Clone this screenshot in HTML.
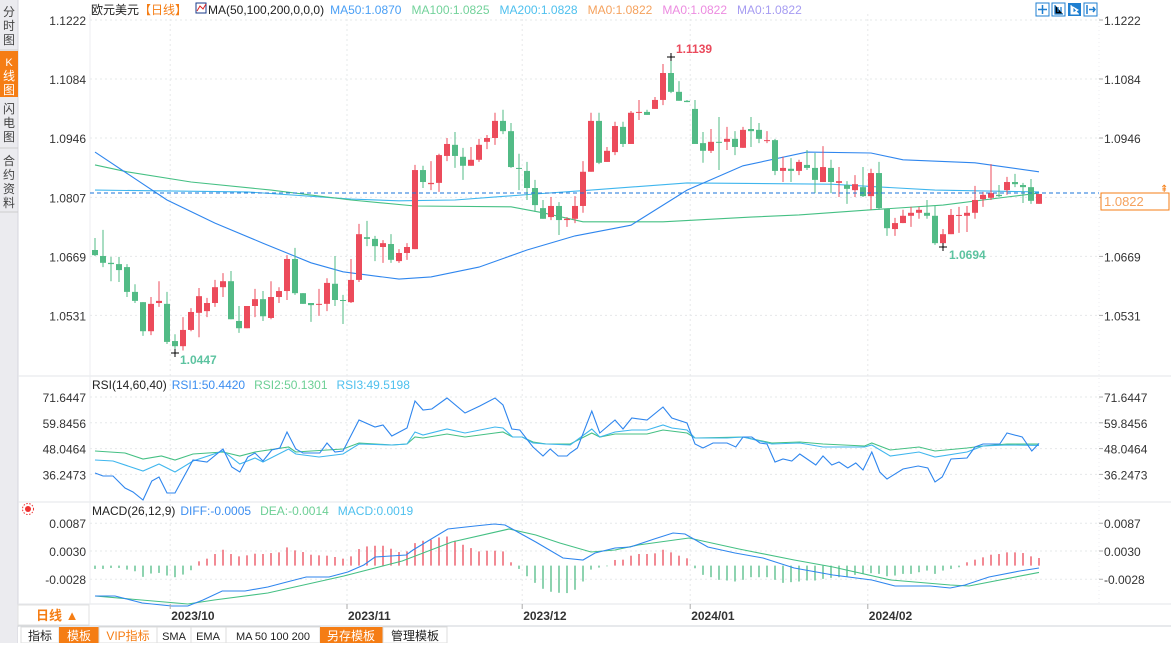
<!DOCTYPE html>
<html><head><meta charset="utf-8">
<style>
html,body{margin:0;padding:0;background:#fff;}
body{width:1171px;height:643px;overflow:hidden;font-family:"Liberation Sans","Noto Sans CJK SC",sans-serif;}
svg text{font-family:"Liberation Sans","Noto Sans CJK SC",sans-serif;}
</style></head>
<body>
<svg id="chart" width="1171" height="643" viewBox="0 0 1171 643" xmlns="http://www.w3.org/2000/svg">
  <!-- sidebar -->
  <g>
    <rect x="0" y="0" width="18" height="643" fill="#ebebef"/>
    <line x1="18" y1="0" x2="18" y2="643" stroke="#d6d6dc"/>
    <g>
      <text x="9" y="16" font-size="12" fill="#444" text-anchor="middle">分</text>
      <text x="9" y="30" font-size="12" fill="#444" text-anchor="middle">时</text>
      <text x="9" y="44" font-size="12" fill="#444" text-anchor="middle">图</text>
    </g>
    <line x1="0" y1="50" x2="18" y2="50" stroke="#ccc"/>
    <g>
      <rect x="0" y="51" width="18" height="46" fill="#f57d14"/>
      <text x="9" y="66" font-size="11" fill="#fff" text-anchor="middle">K</text>
      <text x="9" y="80" font-size="12" fill="#fff" text-anchor="middle">线</text>
      <text x="9" y="94" font-size="12" fill="#fff" text-anchor="middle">图</text>
    </g>
    <g>
      <text x="9" y="113" font-size="12" fill="#444" text-anchor="middle">闪</text>
      <text x="9" y="127" font-size="12" fill="#444" text-anchor="middle">电</text>
      <text x="9" y="141" font-size="12" fill="#444" text-anchor="middle">图</text>
    </g>
    <line x1="0" y1="148" x2="18" y2="148" stroke="#ccc"/>
    <g>
      <text x="9" y="165" font-size="12" fill="#444" text-anchor="middle">合</text>
      <text x="9" y="179" font-size="12" fill="#444" text-anchor="middle">约</text>
      <text x="9" y="193" font-size="12" fill="#444" text-anchor="middle">资</text>
      <text x="9" y="207" font-size="12" fill="#444" text-anchor="middle">料</text>
    </g>
    <line x1="0" y1="212" x2="18" y2="212" stroke="#ccc"/>
  </g>

  <!-- panel frames -->
  <line x1="18" y1="376" x2="1171" y2="376" stroke="#e3e6ea"/>
  <line x1="18" y1="502" x2="1171" y2="502" stroke="#e3e6ea"/>
  <line x1="18" y1="604" x2="1171" y2="604" stroke="#e3e6ea"/>
  <line x1="18" y1="626" x2="1171" y2="626" stroke="#cfd3d8"/>
  <line x1="90" y1="14" x2="90" y2="604" stroke="#eceef0"/>
  <line x1="1099" y1="14" x2="1099" y2="604" stroke="#eceef0" stroke-dasharray="1,3"/>

  <g id="grid"></g>
  <g id="axes"></g>
  <g id="ma"></g>
  <g id="candles"></g>
  <g id="rsi"></g>
  <g id="macd"></g>

  <!-- header -->
  <text x="91" y="14" font-size="12" fill="#222">欧元美元<tspan fill="#f57d14">【日线】</tspan></text>
  <g>
    <rect x="196" y="3" width="10" height="10" fill="#fff" stroke="#1a3a8a"/>
    <polyline points="197,11 200,6 203,9 206,4" fill="none" stroke="#d22" stroke-width="1"/>
  </g>
  <text x="208" y="14" font-size="12" fill="#222">MA(50,100,200,0,0,0)<tspan dx="6" fill="#4a9ff5">MA50:1.0870</tspan><tspan dx="10" fill="#72d29a">MA100:1.0825</tspan><tspan dx="10" fill="#4ec0ee">MA200:1.0828</tspan><tspan dx="10" fill="#f5a25e">MA0:1.0822</tspan><tspan dx="10" fill="#ec8be0">MA0:1.0822</tspan><tspan dx="10" fill="#a69cf2">MA0:1.0822</tspan></text>

  <g>
    <g><rect x="1036" y="3" width="13" height="13" fill="#fff" stroke="#1f7fd0"/><path d="M1042.5 5v9M1038 9.5h9" stroke="#1f7fd0" stroke-width="1.5"/></g>
    <g><rect x="1052" y="3" width="13" height="13" fill="#fff" stroke="#1f7fd0"/><path d="M1055 5v9h8M1058 7v5M1061 7v5" stroke="#1f7fd0" stroke-width="1.3"/></g>
    <g><rect x="1068" y="3" width="13" height="13" fill="#1f7fd0"/><path d="M1071 5v9h8M1073 7l5 3-5 3z" stroke="#fff" fill="#fff" stroke-width="1"/></g>
    <g><rect x="1084" y="3" width="13" height="13" fill="#fff" stroke="#1f7fd0"/><path d="M1087 5v9M1089 9.5h6M1093 7l2 2.5-2 2.5" stroke="#1f7fd0" stroke-width="1.5" fill="none"/></g>
  </g>

  <!-- current price -->
  <line x1="90" y1="193" x2="1099" y2="193" stroke="#1a73d8" stroke-dasharray="4,3"/>
  <rect x="1101" y="193" width="68" height="17" fill="#fff" stroke="#f57d14"/>
  <text x="1104" y="206" font-size="13" fill="#f5a25e">1.0822</text>
  <text x="1160" y="192" font-size="10" fill="#f57d14">⇞</text>

  <!-- extremes -->
  <g><path d="M667 57h8M671 53v8" stroke="#000"/><text x="676" y="53" font-size="12" font-weight="bold" fill="#ea4a5c">1.1139</text></g>
  <g><path d="M171 353h8M175 349v8" stroke="#000"/><text x="180" y="364" font-size="12" font-weight="bold" fill="#5cc3a0">1.0447</text></g>
  <g><path d="M939 247h8M943 243v8" stroke="#000"/><text x="949" y="259" font-size="12" font-weight="bold" fill="#5cc3a0">1.0694</text></g>

  <!-- RSI header -->
  <text x="92" y="389" font-size="12" fill="#222">RSI(14,60,40)<tspan dx="5" fill="#3c8ef0">RSI1:50.4420</tspan><tspan dx="9" fill="#6ccf95">RSI2:50.1301</tspan><tspan dx="9" fill="#4ec0ee">RSI3:49.5198</tspan></text>
  <!-- MACD header -->
  <g><circle cx="28" cy="509" r="3" fill="#e33"/><circle cx="28" cy="509" r="5.5" fill="none" stroke="#e33" stroke-dasharray="1.5,1.5"/></g>
  <text x="92" y="515" font-size="12" fill="#222">MACD(26,12,9)<tspan dx="5" fill="#3c8ef0">DIFF:-0.0005</tspan><tspan dx="9" fill="#6ccf95">DEA:-0.0014</tspan><tspan dx="9" fill="#4ec0ee">MACD:0.0019</tspan></text>

  <!-- date axis -->
  <g>
    <rect x="18" y="605" width="71" height="20" fill="#fff" stroke="#e0e0e0"/>
    <text x="36" y="620" font-size="13" font-weight="bold" fill="#f57d14">日线 ▲</text>
  </g>
  <g id="dates"></g>

  <!-- bottom tabs -->
  <g>
    <rect x="18" y="627" width="1153" height="16" fill="#fff"/>
    <g><rect x="21" y="627" width="38" height="16" fill="#fff" stroke="#ddd"/><text x="40" y="640" font-size="12" fill="#222" text-anchor="middle">指标</text></g>
    <g><rect x="59" y="627" width="40" height="16" fill="#f57d14"/><text x="79" y="640" font-size="12" fill="#fff" text-anchor="middle">模板</text></g>
    <g><rect x="99" y="627" width="58" height="16" fill="#fff" stroke="#ddd"/><text x="128" y="640" font-size="12" fill="#f57d14" text-anchor="middle">VIP指标</text></g>
    <g><rect x="157" y="627" width="34" height="16" fill="#fff" stroke="#ddd"/><text x="174" y="640" font-size="11" fill="#222" text-anchor="middle" font-family="Liberation Mono">SMA</text></g>
    <g><rect x="191" y="627" width="35" height="16" fill="#fff" stroke="#ddd"/><text x="208" y="640" font-size="11" fill="#222" text-anchor="middle" font-family="Liberation Mono">EMA</text></g>
    <g><rect x="226" y="627" width="94" height="16" fill="#fff" stroke="#ddd"/><text x="273" y="640" font-size="11" fill="#222" text-anchor="middle" font-family="Liberation Mono">MA 50 100 200</text></g>
    <g><rect x="320" y="627" width="63" height="16" fill="#f57d14"/><text x="351" y="640" font-size="12" fill="#fff" text-anchor="middle">另存模板</text></g>
    <g><rect x="383" y="627" width="64" height="16" fill="#fff" stroke="#ddd"/><text x="415" y="640" font-size="12" fill="#222" text-anchor="middle">管理模板</text></g>
  </g>
</svg>
<script>
const opens=[1.0684,1.0670,1.0654,1.0651,1.0644,1.0586,1.0562,1.0494,1.0560,1.0558,
1.0471,1.0459,1.0497,1.0537,1.0541,1.0560,1.0597,1.0611,1.0518,1.0501,
1.0553,1.0569,1.0525,1.0574,1.0588,1.0663,1.0583,1.0560,1.0558,1.0558,
1.0605,1.0567,1.0562,1.0614,1.0714,1.0710,1.0691,1.0698,1.0658,1.0677,
1.0686,1.0871,1.0838,1.0841,1.0904,1.0930,1.0902,1.0881,1.0895,1.0937,
1.0946,1.0986,1.0962,1.0876,1.0869,1.0829,1.0782,1.0761,1.0787,1.0754,
1.0757,1.0787,1.0867,1.0986,1.0890,1.0913,1.0972,1.0932,1.1006,1.1007,
1.1014,1.1035,1.1098,1.1054,1.1033,1.1014,1.0934,1.0916,1.0937,1.0937,
1.0944,1.0923,1.0967,1.0965,1.0941,1.0941,1.0869,1.0874,1.0869,1.0883,
1.0876,1.0843,1.0876,1.0841,1.0836,1.0824,1.0831,1.0810,1.0864,1.0780,
1.0733,1.0747,1.0764,1.0771,1.0771,1.0764,1.0700,1.0721,1.0766,1.0764,
1.0771,1.0803,1.0806,1.0813,1.0824,1.0843,1.0836,1.0831,1.0792];
const highs=[1.0712,1.0731,1.0668,1.0668,1.0651,1.0604,1.0562,1.0574,1.0611,1.0586,
1.0487,1.0527,1.0548,1.0595,1.0572,1.0614,1.0630,1.0635,1.0553,1.0553,
1.0593,1.0588,1.0611,1.0597,1.0672,1.0689,1.0583,1.0560,1.0593,1.0618,
1.0670,1.0579,1.0663,1.0745,1.0752,1.0717,1.0707,1.0721,1.0686,1.0700,
1.0883,1.0881,1.0892,1.0909,1.0946,1.0960,1.0923,1.0925,1.0944,1.0953,
1.1005,1.1012,1.0981,1.0909,1.0890,1.0848,1.0801,1.0808,1.0796,1.0761,
1.0810,1.0892,1.1005,1.1005,1.0925,1.0984,1.0984,1.1009,1.1035,1.1012,
1.1042,1.1119,1.1139,1.1079,1.1035,1.1035,1.0960,1.0967,1.0995,1.0972,
1.0962,1.0972,1.0995,1.0981,1.0962,1.0944,1.0902,1.0899,1.0895,1.0918,
1.0911,1.0927,1.0895,1.0878,1.0845,1.0859,1.0878,1.0874,1.0890,1.0780,
1.0759,1.0778,1.0785,1.0785,1.0801,1.0787,1.0733,1.0780,1.0785,1.0787,
1.0834,1.0820,1.0885,1.0836,1.0855,1.0862,1.0841,1.0850,1.0815];
const lows=[1.0670,1.0644,1.0611,1.0609,1.0574,1.0560,1.0483,1.0485,1.0551,1.0464,
1.0447,1.0449,1.0494,1.0480,1.0527,1.0551,1.0574,1.0522,1.0490,1.0501,
1.0527,1.0518,1.0522,1.0560,1.0567,1.0579,1.0558,1.0516,1.0530,1.0541,
1.0553,1.0511,1.0560,1.0609,1.0693,1.0658,1.0654,1.0654,1.0654,1.0661,
1.0686,1.0829,1.0824,1.0820,1.0892,1.0876,1.0848,1.0881,1.0890,1.0920,
1.0930,1.0955,1.0876,1.0824,1.0801,1.0773,1.0757,1.0754,1.0719,1.0738,
1.0747,1.0771,1.0867,1.0885,1.0890,1.0906,1.0925,1.0932,1.0988,1.1000,
1.1014,1.1023,1.1051,1.1033,1.1030,1.0932,1.0888,1.0911,1.0871,1.0918,
1.0906,1.0923,1.0925,1.0934,1.0934,1.0859,1.0843,1.0843,1.0859,1.0871,
1.0817,1.0843,1.0817,1.0808,1.0792,1.0808,1.0808,1.0778,1.0778,1.0717,
1.0717,1.0747,1.0738,1.0757,1.0757,1.0696,1.0694,1.0721,1.0724,1.0726,
1.0757,1.0785,1.0801,1.0808,1.0813,1.0831,1.0794,1.0792,1.0792];
const closes=[1.0672,1.0654,1.0651,1.0637,1.0586,1.0565,1.0494,1.0558,1.0565,1.0469,
1.0459,1.0497,1.0539,1.0576,1.0560,1.0597,1.0611,1.0522,1.0501,1.0553,
1.0569,1.0529,1.0574,1.0588,1.0663,1.0583,1.0558,1.0555,1.0558,1.0607,
1.0567,1.0565,1.0614,1.0721,1.0710,1.0693,1.0700,1.0661,1.0677,1.0691,
1.0871,1.0843,1.0841,1.0906,1.0932,1.0904,1.0881,1.0895,1.0930,1.0946,
1.0986,1.0962,1.0878,1.0875,1.0829,1.0789,1.0757,1.0787,1.0754,1.0757,
1.0787,1.0867,1.0986,1.0888,1.0916,1.0974,1.0932,1.1005,1.1007,1.1000,
1.1035,1.1098,1.1054,1.1033,1.1030,1.0932,1.0916,1.0937,1.0936,1.0944,
1.0925,1.0965,1.0962,1.0944,1.0941,1.0869,1.0876,1.0869,1.0890,1.0876,
1.0848,1.0878,1.0843,1.0845,1.0827,1.0838,1.0810,1.0864,1.0782,1.0735,
1.0747,1.0764,1.0771,1.0778,1.0764,1.0700,1.0721,1.0766,1.0766,1.0771,
1.0801,1.0813,1.0817,1.0810,1.0843,1.0838,1.0831,1.0799,1.0815];

const ma50Idx=[0,9,15,21,27,31,38,42,48,54,60,67,74,81,89,97,101,110,118];
const ma50Val=[1.0913,1.0801,1.0747,1.0700,1.0654,1.0633,1.0616,1.0621,1.0644,1.0684,1.0717,1.0742,1.0824,1.0881,1.0913,1.0911,1.0895,1.0888,1.0867];
const ma100Idx=[0,4,12,22,32,40,52,56,61,71,82,88,97,106,114,118];
const ma100Val=[1.0883,1.0867,1.0843,1.0824,1.0801,1.0787,1.0785,1.0771,1.0750,1.0750,1.0761,1.0766,1.0778,1.0789,1.0808,1.0817];
const ma200Idx=[0,19,32,38,45,55,62,74,92,105,118];
const ma200Val=[1.0824,1.0820,1.0803,1.0799,1.0801,1.0815,1.0824,1.0841,1.0838,1.0824,1.0820];

const priceTicks=[1.1222,1.1084,1.0946,1.0807,1.0669,1.0531];
const rsiTicks=[71.6447,59.8456,48.0464,36.2473];
const macdTicks=[0.0087,0.0030,-0.0028];
const monthLabels=["2023/10","2023/11","2023/12","2024/01","2024/02"];
const monthIdx=[9.4,31.5,53.4,74.4,96.6];

const rsi1Idx=[0,1,2.25,3.75,4.75,6,7.1,8,9,10,12.25,14,16,17.1,18.1,19.1,20,21,22.1,23.1,24,25.1,26,28.1,29,30,31,33,35,36,37.1,39,40,41,42.1,44,46.25,48.1,50,51,52.1,53.1,54.75,56,56.9,57.9,59,59.4,60.3,62.1,63.1,65,66,67.1,69,71,72.1,74,75,76,77.25,79,80.1,81,82.1,83.1,84,85,86,87.1,88.1,90.1,91,92.1,93,94.1,95.1,96,97.1,98.1,99,101,102.9,104.1,105,105.9,107,109,110,111,113.1,114,115.9,117.1,118];
const rsi1Val=[36.89,35.51,35.51,30.03,28.20,24.54,33.23,35.06,27.74,27.74,42.83,41.92,47.86,39.63,37.34,44.20,46.03,42.37,47.40,48.32,55.63,47.86,46.03,46.03,50.60,46.49,46.95,61.12,57.92,58.84,53.81,57.46,69.81,65.70,66.15,71.18,64.32,67.52,71.18,67.98,57.01,56.55,48.77,44.66,47.86,44.66,44.66,46.03,48.32,65.24,55.18,61.12,57.01,62.04,61.12,67.07,62.04,59.75,50.15,48.32,50.60,50.60,48.77,53.35,53.35,50.60,50.15,41.92,43.29,42.37,45.57,40.54,44.66,40.54,41.92,39.17,41.46,38.26,46.49,37.34,34.14,38.71,40.09,39.17,32.77,35.06,43.29,43.74,48.77,50.15,50.15,55.18,53.35,46.95,50.44];
const rsi2Idx=[0,3.75,6,8.3,10,12.25,16,18.1,20,24.2,25.1,31,33,37.1,39,40,41,44,46.25,50,51,52.2,53.4,54.75,56.4,59.4,62.1,63.1,65,69,71,74,75,81,84.6,88.1,91,96.2,97.1,99.4,103,105,109,111,114,118];
const rsi2Val=[46.95,46.03,43.29,44.66,42.83,45.57,46.49,44.66,46.49,48.77,46.49,47.86,50.60,49.69,50.15,53.35,52.89,54.72,53.35,55.18,55.63,53.35,53.35,51.06,50.15,50.15,55.18,53.35,54.72,54.72,56.55,55.18,52.89,53.35,50.60,51.06,50.15,49.23,50.60,47.40,48.77,46.95,48.32,49.23,50.15,50.13];
const rsi3Idx=[0,2.25,6,8,10,12.25,16,18.1,20,21,24.2,25.1,28,31,33,37.1,39,40,41,44,46.25,50,51,52.2,53.4,54.75,56.4,59.4,62.1,63.1,65,67.1,69,71,72.1,74,75,79,81,84.6,88.1,91,96.2,97.1,99.4,103,105,109,111,114,118];
const rsi3Val=[42.83,42.37,37.80,41.00,37.34,42.37,46.95,41.00,43.74,41.92,47.86,45.57,44.20,45.57,50.15,49.69,50.15,55.63,54.26,57.01,55.18,57.92,57.46,53.35,53.35,50.60,50.15,49.69,57.01,53.35,55.63,56.55,56.55,58.84,57.46,56.55,52.89,52.89,53.35,50.15,50.60,48.77,48.77,49.69,44.66,46.49,44.20,46.49,49.23,49.69,49.52];

const diffIdx=[0,2.5,5.9,9.6,11.6,13.5,15.9,18.75,21.6,23.5,26.4,29.25,31.6,33.6,35,38.9,39.75,44.1,47.5,49.9,51.25,55.1,58.5,61,62.5,65,66.9,69.9,72.25,73.75,76.6,80,83.5,87.4,92.25,97.1,100,104.4,106.9,108.75,111.75,115.6,118];
const diffVal=[-62.4,-62.4,-76.8,-82.9,-82.9,-70.6,-52.1,-52.1,-43.9,-35.7,-23.4,-23.4,-13.1,1.3,17.7,21.8,32.1,75.2,81.3,85.4,83.4,48.5,15.6,11.5,25.9,36.2,38.2,54.6,67.0,64.9,38.2,25.9,15.6,-4.9,-19.3,-29.5,-41.9,-41.9,-46.0,-39.8,-23.4,-11.1,-5.0];
const deaIdx=[0,11.6,14.9,21.6,31.1,38.4,44.6,51.75,55.1,58.1,62,65,67.9,74.25,80.5,87.4,92.25,99.5,106.9,109.25,118];
const deaVal=[-62.4,-78.8,-70.6,-56.2,-21.3,9.5,48.5,75.2,62.8,46.4,27.9,32.1,42.3,56.7,34.1,11.5,-2.8,-29.5,-39.8,-41.9,-14.0];
const histVal=[-6.8,-6.8,-4.8,-4.8,-8.2,-11.6,-23.1,-16.3,-15.0,-20.4,-23.8,-18.4,-9.5,8.8,14.3,23.8,32.6,23.8,19.0,21.1,
24.5,23.8,25.8,27.2,37.4,31.3,27.9,22.4,21.1,20.4,17.7,14.3,19.0,34.0,39.4,40.8,40.8,34.7,27.9,29.2,
46.2,51.0,53.0,57.8,59.8,51.0,42.8,36.0,29.2,30.6,30.6,29.2,6.8,-6.8,-21.8,-35.4,-47.6,-53.7,-55.8,-56.4,
-49.6,-32.6,-8.2,-4.1,-1.4,11.6,12.2,20.4,23.8,23.8,25.2,32.6,27.2,20.4,15.0,-5.4,-19.0,-23.8,-29.2,-30.6,
-32.6,-29.2,-23.8,-23.8,-23.8,-29.2,-35.4,-34.0,-32.6,-30.6,-30.6,-27.2,-25.2,-23.8,-22.4,-19.0,-17.0,-15.6,-17.0,-21.8,
-20.4,-17.0,-17.0,-13.6,-10.2,-17.0,-10.2,-6.8,-3.4,6.8,12.2,17.0,22.4,23.8,27.2,27.2,25.8,19.0,15.6];

const NS="http://www.w3.org/2000/svg";
const RED="#ec4b5b",GREEN="#52bb86";
function xOf(i){return 95+8*i;}
function yPrice(p){return 20+(1.1222-p)*4275;}
function yRsi(v){return 397+(71.6447-v)*2.187;}
function yMacd(v){return 551+(0.0030-v)*4870;}
function mk(tag,attrs,parent){const e=document.createElementNS(NS,tag);for(const k in attrs)e.setAttribute(k,attrs[k]);parent.appendChild(e);return e;}

const grid=document.getElementById('grid'),axes=document.getElementById('axes');
function hTicks(ticks,yf,name,fmt){
  ticks.forEach(t=>{
    const y=yf(t);
    const g=mk('line',{x1:90,y1:y,x2:1099,y2:y,stroke:'#e6e8ea','stroke-dasharray':'2,3'},grid);
    
    
    const l=mk('text',{x:86,y:y+5,'font-size':12,fill:'#333','text-anchor':'end'},axes);
    l.textContent=fmt(t);
    
    
    const r=mk('text',{x:1104,y:y+5,'font-size':12,fill:'#333'},axes);
    r.textContent=fmt(t);
    
    
    mk('line',{x1:1099,y1:y,x2:1103,y2:y,stroke:'#aaa'},axes);
  });
}
hTicks(priceTicks,yPrice,'price',t=>t.toFixed(4));
hTicks(rsiTicks,yRsi,'rsi',t=>t.toFixed(4));
hTicks(macdTicks,yMacd,'macd',t=>t.toFixed(4));

const dates=document.getElementById('dates');
monthLabels.forEach((m,k)=>{
  const x=xOf(monthIdx[k]);
  const v=mk('line',{x1:x,y1:14,x2:x,y2:604,stroke:'#e6e8ea','stroke-dasharray':'2,3'},grid);
  
  
  mk('line',{x1:x,y1:604,x2:x,y2:609,stroke:'#aaa'},dates);
  const t=mk('text',{x:x+1,y:620,'font-size':12,'font-weight':'bold',fill:'#333'},dates);
  t.textContent=m;
  
  
});

function poly(idx,val,yf,color,parent,name){
  const pts=idx.map((i,k)=>xOf(i).toFixed(1)+','+yf(val[k]).toFixed(1)).join(' ');
  const p=mk('polyline',{points:pts,fill:'none',stroke:color,'stroke-width':1.1},parent);
  
  
}
const maG=document.getElementById('ma');
poly(ma200Idx,ma200Val,yPrice,'#3fb6ee',maG,'ma200-line');
poly(ma100Idx,ma100Val,yPrice,'#45c084',maG,'ma100-line');
poly(ma50Idx,ma50Val,yPrice,'#2f86ee',maG,'ma50-line');

const cg=document.getElementById('candles');
opens.forEach((o,i)=>{
  const c=closes[i],up=c>=o,col=up?RED:GREEN,x=xOf(i);
  const w=mk('line',{x1:x,y1:yPrice(highs[i]),x2:x,y2:yPrice(lows[i]),stroke:col,'stroke-width':1},cg);
  
  
  const top=yPrice(Math.max(o,c)),bot=yPrice(Math.min(o,c));
  const b=mk('rect',{x:x-3,y:top,width:6,height:Math.max(1,bot-top),fill:col},cg);
  
  
});

const rg=document.getElementById('rsi');
poly(rsi2Idx,rsi2Val,yRsi,'#45c084',rg,'rsi2-line');
poly(rsi3Idx,rsi3Val,yRsi,'#3fb6ee',rg,'rsi3-line');
poly(rsi1Idx,rsi1Val,yRsi,'#2f86ee',rg,'rsi1-line');

const mg=document.getElementById('macd');
histVal.forEach((h,i)=>{
  const v=h/10000,x=xOf(i);
  const b=mk('line',{x1:x,y1:yMacd(0),x2:x,y2:yMacd(v),stroke:h>=0?RED:GREEN,'stroke-width':1.3},mg);
  
  
});
poly(deaIdx,deaVal.map(v=>v/10000),yMacd,'#45c084',mg,'dea-line');
poly(diffIdx,diffVal.map(v=>v/10000),yMacd,'#2f86ee',mg,'diff-line');
</script>
</body></html>
